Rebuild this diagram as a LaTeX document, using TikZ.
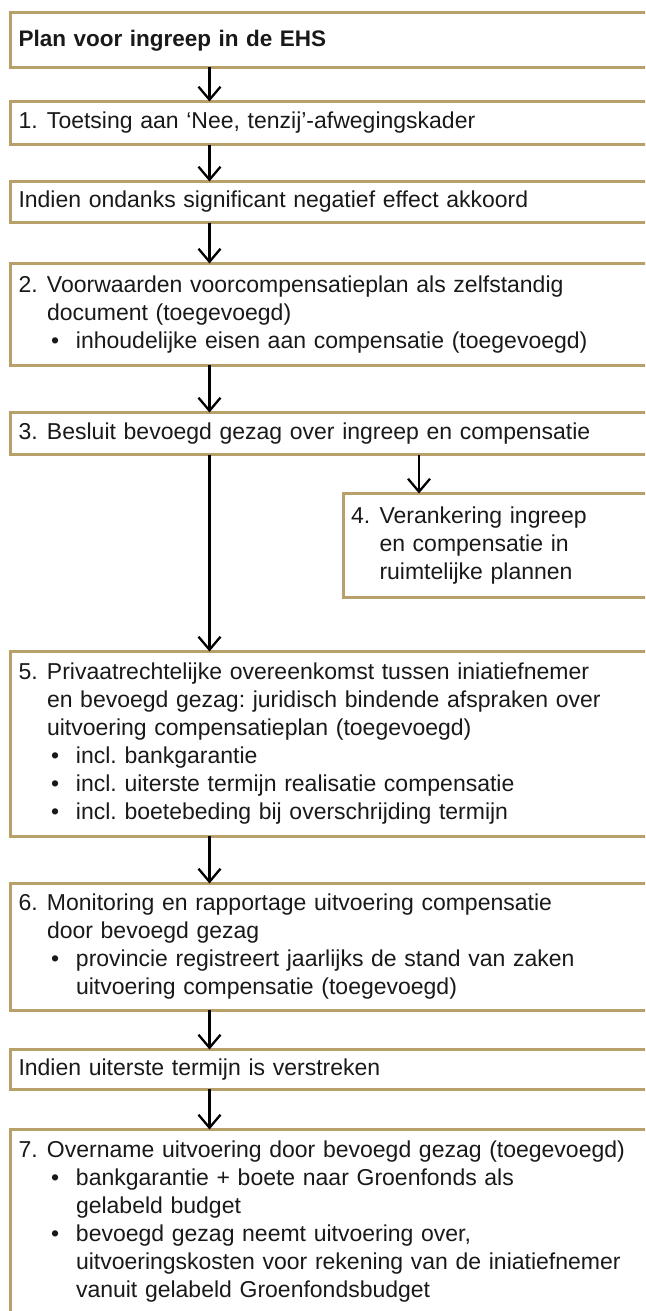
\documentclass[tikz,border=0pt]{standalone}
\usepackage{fontspec}
\setmainfont{Liberation Sans}
\usetikzlibrary{arrows.meta}
\definecolor{gold}{RGB}{184,160,106}
\definecolor{ink}{RGB}{26,24,24}
\newcommand{\stepnum}[1]{\makebox[28.5pt][l]{#1}}
\newcommand{\cont}{\hspace*{28.5pt}}
\newcommand{\bul}{\hspace*{32.5pt}\makebox[25pt][l]{\textbullet}}
\newcommand{\bcont}{\hspace*{57.5pt}}
\frenchspacing
\begin{document}
\begin{tikzpicture}[x=1pt,y=1pt,
  box/.style={draw=gold, line width=3pt, outer sep=0pt, anchor=north west,
    text width=700pt, align=left, inner xsep=8pt, inner ysep=0pt,
    text=ink, font=\fontsize{23}{28}\selectfont\frenchspacing},
  conn/.style={draw=black, line width=2.3pt,
    -{Straight Barb[length=13pt,width=22pt,line width=2.3pt]}}]
\useasboundingbox (0,0) rectangle (645,-1311);
\clip (0,0) rectangle (645,-1311);
\coordinate (ax) at (209.5,0);
\coordinate (bx) at (419,0);

\node[box, minimum height=54.5pt, font=\fontsize{22.5}{28}\selectfont\bfseries] (t) at (10.5,-13) {Plan voor ingreep in de EHS};
\node[box, minimum height=43pt] (b1) at (10.5,-101.5) {\stepnum{1.}Toetsing aan ‘Nee, tenzij’-afwegingskader};
\node[box, minimum height=41pt] (b2) at (10.5,-181.5) {Indien ondanks significant negatief effect akkoord};
\node[box, minimum height=101.5pt] (b3) at (10.5,-263.5) {\stepnum{2.}Voorwaarden voorcompensatieplan als zelfstandig\\\cont document (toegevoegd)\\\bul inhoudelijke eisen aan compensatie (toegevoegd)};
\node[box, minimum height=42pt] (b4) at (10.5,-412.5) {\stepnum{3.}Besluit bevoegd gezag over ingreep en compensatie};
\node[box, minimum height=103.5pt, text width=400pt] (b5) at (343,-493.5) {\stepnum{4.}Verankering ingreep\\\cont en compensatie in\\\cont ruimtelijke plannen};
\node[box, minimum height=184.5pt] (b6) at (10.5,-651.5) {\stepnum{5.}Privaatrechtelijke overeenkomst tussen iniatiefnemer\\\cont en bevoegd gezag: juridisch bindende afspraken over\\\cont uitvoering compensatieplan (toegevoegd)\\\bul incl. bankgarantie\\\bul incl. uiterste termijn realisatie compensatie\\\bul incl. boetebeding bij overschrijding termijn};
\node[box, minimum height=126.5pt] (b7) at (10.5,-883.5) {\stepnum{6.}Monitoring en rapportage uitvoering compensatie\\\cont door bevoegd gezag\\\bul provincie registreert jaarlijks de stand van zaken\\\bcont uitvoering compensatie (toegevoegd)};
\node[box, minimum height=39.5pt] (b8) at (10.5,-1049.5) {Indien uiterste termijn is verstreken};
\node[box, minimum height=185pt] (b9) at (10.5,-1129.5) {\stepnum{7.}Overname uitvoering door bevoegd gezag (toegevoegd)\\\bul bankgarantie + boete naar Groenfonds als\\\bcont gelabeld budget\\\bul bevoegd gezag neemt uitvoering over,\\\bcont uitvoeringskosten voor rekening van de iniatiefnemer\\\bcont vanuit gelabeld Groenfondsbudget};

\draw[conn] (t.south -| ax) -- (b1.north -| ax);
\draw[conn] (b1.south -| ax) -- (b2.north -| ax);
\draw[conn] (b2.south -| ax) -- (b3.north -| ax);
\draw[conn] (b3.south -| ax) -- (b4.north -| ax);
\draw[conn] (b4.south -| bx) -- (b5.north -| bx);
\draw[conn] (b4.south -| ax) -- (b6.north -| ax);
\draw[conn] (b6.south -| ax) -- (b7.north -| ax);
\draw[conn] (b7.south -| ax) -- (b8.north -| ax);
\draw[conn] (b8.south -| ax) -- (b9.north -| ax);
\end{tikzpicture}
\end{document}
